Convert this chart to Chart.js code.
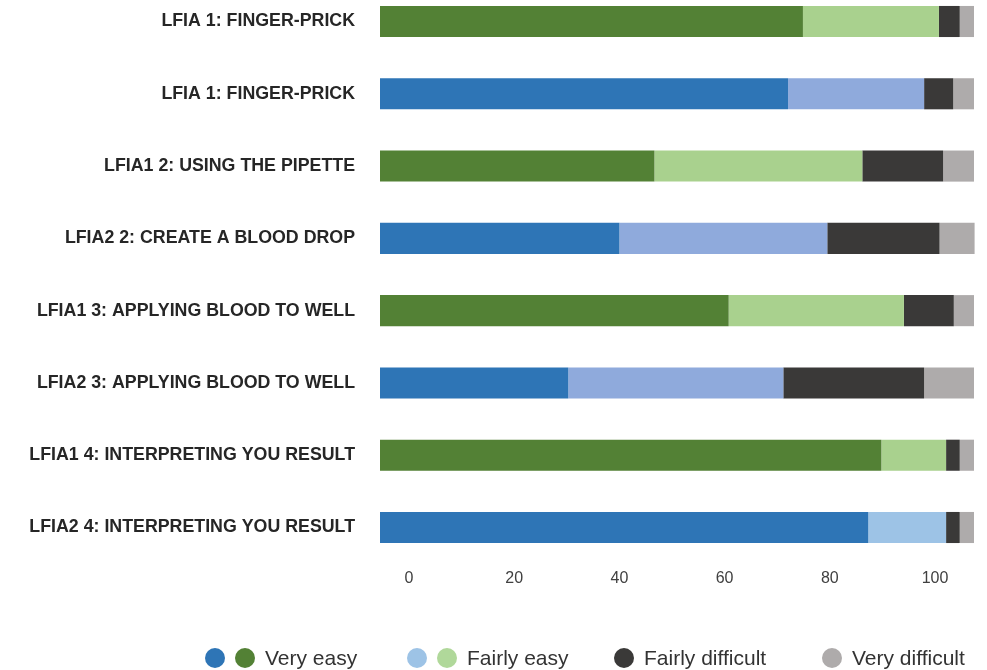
<!DOCTYPE html>
<html>
<head>
<meta charset="utf-8">
<title>LFIA steps</title>
<script src="https://cdn.jsdelivr.net/npm/chart.js@4.4.1/dist/chart.umd.min.js"></script>
<style>
  html, body { margin: 0; padding: 0; background: #fff; }
  #wrap { position: relative; width: 987px; height: 670px; }
  #legend { position: absolute; left: 0; top: 647px; width: 987px; height: 22px;
            font-family: "Liberation Sans", Arial, sans-serif; font-size: 21px; color: #333; }
  .item { position: absolute; top: 0; height: 22px; display: flex; align-items: center; white-space: nowrap; }
  .dot { width: 20px; height: 20px; border-radius: 50%; margin-right: 10px; flex: none; }
</style>
</head>
<body>
<div id="wrap">
  <canvas id="chart" width="987" height="670"></canvas>
  <div id="legend"></div>
</div>
<script>
// steps, top to bottom
const categories = [
    "LFIA 1: FINGER-PRICK",
    "LFIA 1: FINGER-PRICK",
    "LFIA1 2: USING THE PIPETTE",
    "LFIA2 2: CREATE A BLOOD DROP",
    "LFIA1 3: APPLYING BLOOD TO WELL",
    "LFIA2 3: APPLYING BLOOD TO WELL",
    "LFIA1 4: INTERPRETING YOU RESULT",
    "LFIA2 4: INTERPRETING YOU RESULT"
];

// percent of answers
const veryEasy        = [71.2, 68.7, 46.2, 40.3, 58.7, 31.7, 84.4, 82.2];
const fairlyEasy      = [22.9, 22.9, 35.0, 35.0, 29.5, 36.2, 10.9, 13.1];
const fairlyDifficult = [3.5, 4.9, 13.6, 18.9, 8.4, 23.7, 2.3, 2.3];
const veryDifficult   = [2.4, 3.5, 5.2, 5.9, 3.4, 8.4, 2.4, 2.4];

// which test each row belongs to (LFIA1 green, LFIA2 blue)
const rowTest = ["LFIA1", "LFIA2", "LFIA1", "LFIA2", "LFIA1", "LFIA2", "LFIA1", "LFIA2"];

const legendLabels = ["Very easy", "Fairly easy", "Fairly difficult", "Very difficult"];

const FONT = '"Liberation Sans", Arial, sans-serif';

const palette = {
    LFIA1: { strong: "#538135", light: "#a9d18e" },
    LFIA2: { strong: "#2e75b6", light: "#8faadc" }
};

const strongColors = rowTest.map(t => palette[t].strong);
const lightColors = rowTest.map((t, i) => (i === rowTest.length - 1 ? "#9dc3e6" : palette[t].light));

function series(label, data, color) {
    return {
        label: label,
        data: data,
        backgroundColor: color,
        borderWidth: 0,
        categoryPercentage: 1,
        barPercentage: 0.43,
        clip: false
    };
}

function noPad(s) {
    s.paddingTop = 0;
    s.paddingBottom = 0;
    s.paddingLeft = 0;
    s.paddingRight = 0;
}

new Chart(document.getElementById("chart"), {
    type: "bar",
    data: {
        labels: categories,
        datasets: [
            series(legendLabels[0], veryEasy, strongColors),
            series(legendLabels[1], fairlyEasy, lightColors),
            series(legendLabels[2], fairlyDifficult, "#3a3938"),
            series(legendLabels[3], veryDifficult, "#aeabab")
        ]
    },
    options: {
        indexAxis: "y",
        responsive: false,
        animation: false,
        devicePixelRatio: 1,
        layout: { padding: { top: 21.5, right: 13, bottom: 0, left: 0 } },
        plugins: {
            legend: { display: false },
            tooltip: { enabled: false }
        },
        scales: {
            x: { display: false, stacked: true, min: 0, max: 100 },
            // the printed axis sits a little off the bars, as in the source figure
            xTicks: {
                position: "bottom",
                min: -5.5,
                max: 107.4,
                grid: { display: false, drawTicks: false },
                border: { display: false },
                ticks: {
                    stepSize: 20,
                    includeBounds: false,
                    padding: 41,
                    color: "#404040",
                    font: { family: FONT, size: 16 }
                },
                afterFit: s => { s.height = 142.5; noPad(s); }
            },
            y: {
                stacked: true,
                offset: false,
                grid: { display: false, drawTicks: false },
                border: { display: false },
                ticks: {
                    padding: 25,
                    color: "#262626",
                    font: { family: FONT, size: 17.8, weight: "bold" }
                },
                afterFit: s => { s.width = 380; noPad(s); }
            }
        }
    }
});

// legend: two dots for the easy answers (one per test)
const legendDots = [
    ["#2e75b6", "#538135"],
    ["#9dc3e6", "#b0d89a"],
    ["#3a3938"],
    ["#aeabab"]
];
const legendLeft = [205, 407, 614, 822];
const legend = document.getElementById("legend");
legendLabels.forEach((name, i) => {
    const item = document.createElement("div");
    item.className = "item";
    item.style.left = legendLeft[i] + "px";
    legendDots[i].forEach(c => {
        const dot = document.createElement("span");
        dot.className = "dot";
        dot.style.background = c;
        item.appendChild(dot);
    });
    const txt = document.createElement("span");
    txt.textContent = name;
    item.appendChild(txt);
    legend.appendChild(item);
});
</script>
</body>
</html>
